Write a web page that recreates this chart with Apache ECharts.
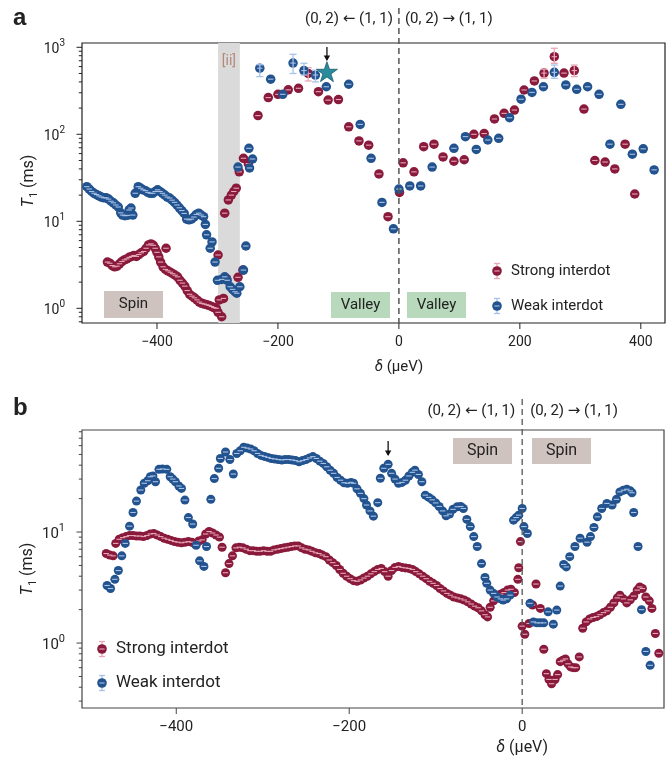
<!DOCTYPE html>
<html><head><meta charset="utf-8">
<script src="https://cdn.jsdelivr.net/npm/echarts@6/dist/echarts.min.js"></script>
<style>html,body{margin:0;padding:0;background:#fff}#c{width:671px;height:762px}</style>
</head><body><div id="c"></div>
<script>
// ---------- DATA (delta in µeV, T1 in ms) ----------
const strongA = [[-482,3.4],[-478,3.3],[-474,3.1],[-470,3.0],[-466,3.05],[-462,3.25],[-458,3.45],[-454,3.6],[-450,3.7],[-446,3.85],[-442,3.95],[-438,4.05],[-434,3.95],[-430,4.15],[-426,4.35],[-422,4.5],[-418,4.9],[-414,5.35],[-410,5.5],[-406,5.3],[-403,4.9],[-400,4.4],[-397,3.9],[-394,3.4],[-390,3.0],[-385,4.9],[-386,2.8],[-382,2.7],[-378,2.6],[-374,2.5],[-370,2.4],[-366,2.3],[-362,2.1],[-358,1.95],[-354,1.8],[-350,1.6],[-346,1.45],[-342,1.38],[-338,1.32],[-334,1.25],[-330,1.18],[-326,1.14],[-322,1.12],[-318,1.1],[-314,1.08],[-310,1.05],[-306,1.02],[-302,1.0],[-299,0.9],[-293,0.8],[-299,4.1],[-297,1.25],[-290,1.3],[-285,2.2],[-266,2.27],[-258,2.75],[-288,12.4],[-282,17.6],[-277,20],[-273,22],[-269,24],[-264,37],[-257,53],[-249,46],[-233,164],[-216,264],[-200,288],[-183,324],[-166,338],[-150,500],[-133,309],[-117,247],[-100,251],[-83,122],[-66,84],[-50,75],[-33,35],[-18,11.3],[1,21.5],[7,47],[25,37],[41,72],[58,77],[73,55],[91,49],[108,51],[124,100],[141,102],[158,150],[174,174],[191,190],[207,323],[224,410],[240,505],[257,780],[273,505],[290,540],[306,195],[324,50],[341,48],[357,40],[374,77],[390,20.6]];
const weakA = [[-516,25],[-512,23.5],[-508,22],[-504,21],[-500,20.3],[-496,19.6],[-492,19],[-488,18.6],[-484,18.6],[-480,18],[-476,17],[-472,16.3],[-468,15.4],[-464,14.6],[-460,12.5],[-457,11.8],[-453,11.6],[-449,11.7],[-446,13.5],[-443,14.2],[-440,11.8],[-436,21],[-431,25],[-427,24],[-423,23],[-419,22.5],[-415,21.5],[-411,21],[-407,21],[-403,22],[-399,23],[-395,22],[-391,21],[-387,20],[-383,19],[-379,18.5],[-375,17.5],[-371,16.5],[-367,15.4],[-363,14.3],[-359,13.3],[-355,12.3],[-351,10.6],[-347,10.4],[-343,10.6],[-339,11.2],[-335,12],[-331,12.4],[-327,11.8],[-323,11.3],[-320,9.2],[-318,7],[-312,4.9],[-309,5.8],[-304,3.4],[-300,2.1],[-293,2.15],[-288,2.3],[-284,2.1],[-279,1.77],[-275,1.65],[-271,1.55],[-268,1.49],[-263,1.77],[-257,2.75],[-253,5.2],[-266,42],[-248,69],[-247,41],[-242,52],[-230,575],[-212,430],[-192,288],[-175,658],[-157,540],[-138,480],[-120,352],[-83,376],[-64,130],[-46,53],[-28,16.5],[-9,8.2],[0,23.5],[18,25.5],[36,25.5],[55,42],[91,69],[110,94],[128,67],[147,86],[165,90],[183,155],[202,253],[220,303],[239,352],[257,515],[276,369],[294,329],[312,352],[331,288],[349,77],[367,221],[386,59],[404,68],[422,39]];
const starA = [[-119, 525]];
// error bars [delta, low, high]
const errStrongA = [[-150,410,583],[240,440,560],[257,655,975],[290,460,625]];
const errWeakA = [[-230,460,630],[-175,500,830],[-157,480,655],[-138,400,545],[257,440,625]];
const bandA = [-299, -263];

const strongB = [[-481,6.4],[-477,6.2],[-473,6.1],[-470,7.9],[-466,8.6],[-462,8.9],[-458,9.1],[-454,9.3],[-450,9.3],[-446,9.2],[-442,9.2],[-438,9.1],[-434,9.3],[-430,9.6],[-426,9.7],[-422,9.4],[-418,9.1],[-414,8.8],[-410,8.6],[-406,8.4],[-402,8.2],[-398,8.1],[-394,8.0],[-390,8.1],[-386,8.2],[-382,8.1],[-378,7.8],[-374,8.3],[-370,8.5],[-366,9.6],[-362,10.1],[-358,9.8],[-354,9.4],[-350,9.0],[-347,7.3],[-343,4.3],[-339,5.2],[-335,6.1],[-331,7.2],[-327,7.3],[-323,7.2],[-319,7.0],[-315,6.8],[-311,6.8],[-307,6.7],[-303,6.7],[-299,6.8],[-295,6.7],[-291,6.7],[-287,6.9],[-283,7.0],[-279,7.1],[-275,7.2],[-271,7.3],[-267,7.4],[-263,7.5],[-259,7.5],[-255,7.2],[-251,7.0],[-247,6.9],[-243,6.7],[-239,6.5],[-235,6.4],[-231,6.2],[-227,6.0],[-223,5.6],[-219,5.3],[-215,5.0],[-211,4.6],[-207,4.25],[-203,4.0],[-199,3.8],[-195,3.65],[-191,3.6],[-187,3.7],[-183,3.85],[-179,4.0],[-175,4.2],[-171,4.4],[-167,4.6],[-163,4.7],[-159,4.4],[-155,4.0],[-151,4.5],[-147,4.8],[-143,4.9],[-139,4.8],[-135,4.75],[-131,4.7],[-127,4.6],[-123,4.4],[-119,4.2],[-115,4.0],[-111,3.8],[-107,3.6],[-103,3.45],[-99,3.3],[-95,3.1],[-91,2.95],[-87,2.8],[-83,2.7],[-79,2.6],[-75,2.55],[-71,2.5],[-67,2.44],[-63,2.35],[-59,2.25],[-55,2.15],[-51,2.08],[-47,1.95],[-43,1.8],[-40,1.72],[-37,2.1],[-33,2.4],[-29,2.6],[-25,2.75],[-21,2.85],[-17,3.0],[-13,3.05],[-9,2.85],[-5,3.75],[-4,4.77],[-2,8.2],[0,1.42],[3,1.2],[8,1.5],[12,2.2],[16,3.4],[21,2.05],[25,0.88],[28,0.53],[31,0.47],[34,0.43],[38,0.47],[41,0.52],[44,0.68],[47,0.7],[50,0.72],[53,0.65],[56,0.61],[59,0.6],[62,0.6],[66,0.75],[70,1.36],[74,1.55],[78,1.65],[82,1.7],[86,1.73],[90,1.8],[94,1.88],[98,1.95],[102,2.1],[106,2.3],[110,2.55],[113,2.7],[117,2.5],[121,2.3],[125,2.45],[129,2.65],[133,3.0],[136,3.2],[139,3.1],[143,2.6],[147,2.4],[150,2.05],[154,1.22],[158,0.81]];
const weakB = [[-480,3.3],[-476,3.1],[-471,3.75],[-467,4.5],[-463,6.1],[-459,7.9],[-454,11.3],[-450,15],[-446,19],[-441,23.9],[-437,27.5],[-433,29],[-430,31.5],[-427,32],[-424,28.4],[-420,36.7],[-416,37],[-411,36.7],[-407,31.5],[-404,30],[-401,28.4],[-397,26],[-394,24.7],[-390,19.4],[-386,13.5],[-381,11.8],[-377,7.6],[-373,5.5],[-368,4.9],[-365,7.4],[-360,19.7],[-356,30.3],[-351,37.5],[-349,46],[-343,52.6],[-338,45],[-334,33.3],[-330,51],[-326,54],[-322,58],[-318,57],[-314,56],[-310,54],[-306,51],[-302,49],[-298,48],[-294,47],[-290,46],[-286,45.5],[-282,45],[-278,44.6],[-274,45],[-270,45],[-266,44.6],[-262,44],[-258,43],[-254,44],[-250,45],[-246,46.5],[-242,47.8],[-238,46],[-234,43.5],[-230,41.5],[-226,38.7],[-222,36],[-218,33.8],[-214,31],[-210,29.3],[-206,27.8],[-202,27.5],[-198,28],[-195,27.5],[-191,24.5],[-187,22.3],[-183,20],[-180,17.5],[-176,15.5],[-172,13.9],[-167,18.4],[-164,30.5],[-160,37.5],[-155,40.7],[-151,33.8],[-147,30],[-143,27.5],[-139,28],[-135,29.3],[-131,32],[-127,34.5],[-124,36.1],[-120,33],[-116,28.4],[-112,21.5],[-108,20.5],[-104,19.5],[-100,18.3],[-96,17],[-92,15.5],[-88,14],[-84,14.5],[-80,16],[-75,16.9],[-71,17],[-68,16.3],[-64,13],[-60,11.2],[-56,9.1],[-52,7.4],[-47,5.2],[-43,3.9],[-41,3.45],[-37,3.0],[-33,2.8],[-29,2.6],[-25,2.5],[-22,2.44],[-18,2.5],[-14,2.7],[-10,12.8],[-7,13.5],[-4,14.2],[0,16.3],[2,11.2],[6,9.7],[9,2.28],[13,1.55],[17,1.52],[21,1.52],[25,1.52],[30,1.91],[36,1.48],[40,1.98],[44,3.26],[48,5.1],[51,4.85],[55,6.0],[61,7.4],[67,8.8],[75,8.1],[79,9.1],[83,11.0],[87,13.7],[92,16.3],[98,18.1],[104,17.5],[109,19.7],[113,23],[117,23.8],[121,24.3],[125,23.5],[127,22.6],[129,15],[134,7.4],[138,2.0],[143,0.84],[148,0.63]];

const xTicksA = [-400,-200,0,200,400];
const xTicksB = [-400,-200,0];
const xRangeA = [-524, 440], xRangeB = [-509, 164];
const yRangeA = [0.678, 1120], yRangeB = [0.26, 83];
const arrowA = -119, arrowB = -155;

// ---------- STYLE ----------
const FONT = 'Roboto, "Noto Sans", "DejaVu Sans", sans-serif';
const RED = '#8a1a3c', BLUE = '#23538f', REDL = '#e8a6b6', BLUEL = '#a7c3e8';
const TXT = '#222';
const GA = {left:82, top:43, width:583, height:280};
const GB = {left:82, top:430, width:582, height:278};

function powLabel(v){ const e=Math.log10(v), r=Math.round(e); if(Math.abs(e-r)>1e-6) return ''; return '{m|10}{e|'+r+'}'; }
function xLabel(v){ if(Math.abs(v%200)>1e-6) return ''; return v<0 ? '\u2212'+(-v) : String(v); }

function capSeries(data, color, xi, z){
  return {type:'custom', xAxisIndex:xi, yAxisIndex:xi, data:data, z:z, silent:true,
    renderItem:function(params, api){ const p=api.coord([api.value(0), api.value(1)]);
      return {type:'line', shape:{x1:p[0]-2.7,y1:p[1],x2:p[0]+2.7,y2:p[1]}, style:{stroke:color, lineWidth:1.1}}; }};
}
function errSeries(data, color, xi, z){
  return {type:'custom', xAxisIndex:xi, yAxisIndex:xi, data:data, z:z, silent:true, encode:{x:0, y:[1,2]},
    renderItem:function(params, api){ const x=api.value(0); const lo=api.coord([x, api.value(1)]), hi=api.coord([x, api.value(2)]);
      const st={stroke:color, lineWidth:1.3};
      return {type:'group', children:[
        {type:'line', shape:{x1:lo[0],y1:lo[1],x2:hi[0],y2:hi[1]}, style:st},
        {type:'line', shape:{x1:lo[0]-3.5,y1:lo[1],x2:lo[0]+3.5,y2:lo[1]}, style:st},
        {type:'line', shape:{x1:hi[0]-3.5,y1:hi[1],x2:hi[0]+3.5,y2:hi[1]}, style:st}]}; }};
}

const axisLabelY = (fs)=>({formatter:powLabel, margin:17, rich:{
  m:{fontSize:fs, fontFamily:FONT, color:TXT, lineHeight:fs+4, verticalAlign:'bottom'},
  e:{fontSize:fs-4, fontFamily:FONT, color:TXT, lineHeight:fs-4, verticalAlign:'top'}}});

const chart = echarts.init(document.getElementById('c'));
chart.setOption({
  animation:false,
  backgroundColor:'#fff',
  grid:[Object.assign({show:true, borderColor:'#222', borderWidth:1.2, containLabel:false}, GA),
        Object.assign({show:true, borderColor:'#444', borderWidth:1.2, containLabel:false}, GB)],
  xAxis:[
    {type:'value', gridIndex:0, min:xRangeA[0], max:xRangeA[1], splitNumber:5, axisLine:{show:false}, axisTick:{show:false}, splitLine:{show:false},
     axisLabel:{formatter:xLabel, margin:12, fontSize:14, fontFamily:FONT, color:TXT, showMinLabel:true, showMaxLabel:true}},
    {type:'value', gridIndex:1, min:xRangeB[0], max:xRangeB[1], splitNumber:3, axisLine:{show:false}, axisTick:{show:false}, splitLine:{show:false},
     axisLabel:{formatter:xLabel, margin:12, fontSize:15, fontFamily:FONT, color:TXT}}
  ],
  yAxis:[
    {type:'log', logBase:10, gridIndex:0, min:yRangeA[0], max:yRangeA[1], axisLine:{show:false}, axisTick:{show:false}, splitLine:{show:false}, minorTick:{show:false}, axisLabel:axisLabelY(14)},
    {type:'log', logBase:10, gridIndex:1, min:yRangeB[0], max:yRangeB[1], axisLine:{show:false}, axisTick:{show:false}, splitLine:{show:false}, minorTick:{show:false}, axisLabel:axisLabelY(15)}
  ],
  series:[
    {type:'scatter', xAxisIndex:0, yAxisIndex:0, data:[], z:1, silent:true,
     markArea:{silent:true, itemStyle:{color:'#dadada'}, data:[[{xAxis:bandA[0]},{xAxis:bandA[1]}]]}},
    {type:'scatter', name:'Strong interdot', xAxisIndex:0, yAxisIndex:0, data:strongA, symbolSize:9.5, itemStyle:{color:RED, opacity:1}, z:2, silent:true},
    capSeries(strongA, REDL, 0, 3),
    errSeries(errStrongA, REDL, 0, 3),
    {type:'scatter', name:'Weak interdot', xAxisIndex:0, yAxisIndex:0, data:weakA, symbolSize:9.5, itemStyle:{color:BLUE, opacity:1}, z:4, silent:true},
    capSeries(weakA, BLUEL, 0, 5),
    errSeries(errWeakA, BLUEL, 0, 5),
    {type:'scatter', xAxisIndex:0, yAxisIndex:0, data:starA, symbol:'path://M12,0 L14.9,8.6 L24,8.6 L16.6,13.9 L19.4,22.5 L12,17.2 L4.6,22.5 L7.4,13.9 L0,8.6 L9.1,8.6 Z', symbolSize:[21,20], itemStyle:{color:'#2a8b9c', borderColor:'#1b5a6b', borderWidth:0.8, opacity:1}, z:6, silent:true},
    {type:'scatter', name:'Strong interdot', xAxisIndex:1, yAxisIndex:1, data:strongB, symbolSize:9, itemStyle:{color:RED, opacity:1}, z:2, silent:true},
    capSeries(strongB, REDL, 1, 3),
    {type:'scatter', name:'Weak interdot', xAxisIndex:1, yAxisIndex:1, data:weakB, symbolSize:9, itemStyle:{color:BLUE, opacity:1}, z:4, silent:true},
    capSeries(weakB, BLUEL, 1, 5)
  ]
});

// ---------- annotations / ticks ----------
const G = [];
function line(x1,y1,x2,y2,stroke,w,dash){ G.push({type:'line', silent:true, z:20, shape:{x1,y1,x2,y2}, style:{stroke, lineWidth:w, lineDash:dash||null}}); }
function text(x,y,t,opt){ G.push({type:'text', silent:true, z:21, x, y, rotation:opt.rotation||0,
  style:Object.assign({text:t, fill:TXT, fontFamily:FONT, fontSize:15, textAlign:'center', textVerticalAlign:'middle'}, opt.style||{})}); }
function rect(x,y,w,h,fill){ G.push({type:'rect', silent:true, z:19, shape:{x,y,width:w,height:h}, style:{fill}}); }

function ticks(idx, g, yr, xt, color){
  const bottom = g.top + g.height;
  for (let d=-2; d<=4; d++) for (let k=1; k<=9; k++){
    const v = k*Math.pow(10,d);
    if (v < yr[0] || v > yr[1]) continue;
    const y = chart.convertToPixel({yAxisIndex:idx}, v);
    const len = k===1 ? 5.5 : 3.2;
    line(g.left-len, y, g.left, y, color, 1);
  }
  xt.forEach(v=>{ const x = chart.convertToPixel({xAxisIndex:idx}, v); line(x, bottom, x, bottom+6, color, 1); });
}
ticks(0, GA, yRangeA, xTicksA, '#222');
ticks(1, GB, yRangeB, xTicksB, '#444');

// dashed zero lines
const x0a = chart.convertToPixel({xAxisIndex:0}, 0);
const x0b = chart.convertToPixel({xAxisIndex:1}, 0);
line(x0a, 8, x0a, GA.top+GA.height, '#555', 1.5, [6,4]);
line(x0b, 399, x0b, GB.top+GB.height, '#555', 1.3, [6,4]);

// panel letters
text(13, 18, 'a', {style:{fontFamily:'"Liberation Sans", Arial, sans-serif', fontWeight:'bold', fontSize:24, textAlign:'left'}});
text(13, 408, 'b', {style:{fontFamily:'"Liberation Sans", Arial, sans-serif', fontWeight:'bold', fontSize:24, textAlign:'left'}});

// top labels
text(x0a-6, 19, '(0, 2) \u2190 (1, 1)', {style:{textAlign:'right', fontSize:15}});
text(x0a+6, 19, '(0, 2) \u2192 (1, 1)', {style:{textAlign:'left', fontSize:15}});
text(x0b-7, 411, '(0, 2) \u2190 (1, 1)', {style:{textAlign:'right', fontSize:15}});
text(x0b+8, 411, '(0, 2) \u2192 (1, 1)', {style:{textAlign:'left', fontSize:15}});

// boxes
rect(104, 291, 59, 27, '#cec3be'); text(133.5, 304.5, 'Spin', {style:{fontSize:15}});
rect(331, 292, 59, 26, '#b8d9bc'); text(360.5, 305, 'Valley', {style:{fontSize:15}});
rect(407, 292, 59, 26, '#b8d9bc'); text(436.5, 305, 'Valley', {style:{fontSize:15}});
rect(453, 438, 59, 26, '#cec3be'); text(482.5, 451, 'Spin', {style:{fontSize:16}});
rect(532, 438, 59, 26, '#cec3be'); text(561.5, 451, 'Spin', {style:{fontSize:16}});

// band label
const bandMid = chart.convertToPixel({xAxisIndex:0}, (bandA[0]+bandA[1])/2);
text(bandMid, 61, '[ii]', {style:{fill:'#b5897a', fontSize:14}});

// arrows
function arrow(x, y1, y2){
  line(x, y1, x, y2-1, '#111', 1.3);
  G.push({type:'polygon', silent:true, z:20, shape:{points:[[x-3.2,y2-5.5],[x+3.2,y2-5.5],[x,y2]]}, style:{fill:'#111'}});
}
arrow(chart.convertToPixel({xAxisIndex:0}, arrowA), 47, 61);
arrow(chart.convertToPixel({xAxisIndex:1}, arrowB), 441, 456);

// legends
function legendItem(cx, cy, color, light, label, fs){
  line(cx, cy-7.5, cx, cy+7.5, light, 1.3);
  line(cx-3, cy-7.5, cx+3, cy-7.5, light, 1.3);
  line(cx-3, cy+7.5, cx+3, cy+7.5, light, 1.3);
  G.push({type:'circle', silent:true, z:20, shape:{cx, cy, r:4.8}, style:{fill:color}});
  line(cx-2.6, cy, cx+2.6, cy, light, 1.1);
  text(cx+14, cy, label, {style:{textAlign:'left', fontSize:fs}});
}
legendItem(497, 271, RED, REDL, 'Strong interdot', 15);
legendItem(497, 306, BLUE, BLUEL, 'Weak interdot', 15);
legendItem(102, 649, RED, REDL, 'Strong interdot', 17);
legendItem(102, 683, BLUE, BLUEL, 'Weak interdot', 17);

// axis names
const yName = {rich:{i:{fontStyle:'italic', fontSize:16, fontFamily:FONT, fill:TXT}, s:{fontSize:11, fontFamily:FONT, fill:TXT, verticalAlign:'bottom', lineHeight:22}, n:{fontSize:16, fontFamily:FONT, fill:TXT}}};
text(29, 181, '{i|T}{s|1}{n| (ms)}', {rotation:Math.PI/2, style:yName});
text(28, 569, '{i|T}{s|1}{n| (ms)}', {rotation:Math.PI/2, style:yName});
const xName = (fs)=>({rich:{i:{fontStyle:'italic', fontSize:fs, fontFamily:FONT, fill:TXT}, n:{fontSize:fs, fontFamily:FONT, fill:TXT}}});
text(x0a, 367, '{i|\u03b4}{n| (\u00b5eV)}', {style:xName(15)});
text(x0b, 748, '{i|\u03b4}{n| (\u00b5eV)}', {style:xName(16)});

chart.setOption({graphic:G});
</script>
</body></html>
